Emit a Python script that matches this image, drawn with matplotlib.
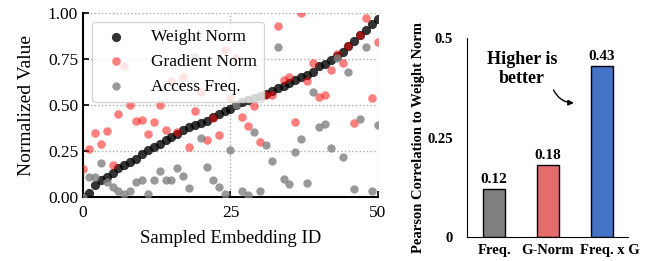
import numpy as np
import matplotlib
matplotlib.use("Agg")
import matplotlib.pyplot as plt
import matplotlib.transforms as mtransforms

plt.rcParams['font.family'] = ['Liberation Serif', 'DejaVu Serif']

# sampled embedding ids
emb_id = list(range(51))

# weight norm (sorted)
weight_norm = [0.00, 0.02, 0.065, 0.09, 0.11, 0.13, 0.155, 0.175, 0.19, 0.205,
               0.235, 0.255, 0.27, 0.29, 0.31, 0.325, 0.345, 0.365, 0.38, 0.39,
               0.40, 0.415, 0.435, 0.45, 0.465, 0.48, 0.50, 0.515, 0.527, 0.537,
               0.548, 0.56, 0.575, 0.59, 0.605, 0.62, 0.635, 0.65, 0.665, 0.68,
               0.71, 0.725, 0.745, 0.765, 0.79, 0.82, 0.85, 0.88, 0.91, 0.94,
               0.965]

grad_norm = [0.15, 0.26, 0.35, 0.29, 0.36, 0.175, 0.45, 0.71, 0.50, 0.415,
             0.42, 0.34, 0.41, 0.50, 0.365, 0.63, 0.355, 0.65, 0.27, 0.47,
             0.57, 0.31, 0.43, 0.335, 0.80, 0.536, 0.755, 0.435, 0.386, 0.495,
             0.30, 0.555, 0.555, 0.93, 0.636, 0.654, 0.405, 1.0, 0.63, 0.727,
             0.545, 0.555, 0.69, 0.775, 0.727, 0.82, 0.404, 0.88, 0.975, 0.54,
             0.84]

access_freq = [0.0, 0.11, 0.11, 0.187, 0.083, 0.056, 0.03, 0.016, 0.033, 0.083,
               0.09, 0.016, 0.09, 0.14, 0.09, 0.09, 0.156, 0.114, 0.047, 0.76,
               0.32, 0.165, 0.09, 0.056, 0.016, 0.257, 0.50, 0.034, 0.01, 0.355,
               0.03, 0.28, 0.196, 0.817, 0.10, 0.069, 0.246, 0.315, 0.078, 0.57,
               0.38, 0.397, 0.265, 0.754, 0.22, 0.68, 0.043, 0.424, 0.817, 0.034,
               0.39]

# pearson correlation bars
corr_labels = ['Freq.', 'G-Norm', 'Freq. x G']
corr_values = [0.12, 0.18, 0.43]
corr_colors = ['#7f7f7f', '#e46c6a', '#4472c4']

fig = plt.figure(figsize=(6.46, 2.61), dpi=100)

# ---- left: scatter ----
ax = fig.add_axes([0.1285, 0.2452, 0.4565, 0.705])
ax.scatter(emb_id, weight_norm, s=44, color='black', alpha=0.8, lw=0,
           label='Weight Norm', zorder=3)
ax.scatter(emb_id, grad_norm, s=38, color='red', alpha=0.5, lw=0,
           label='Gradient Norm', zorder=3)
ax.scatter(emb_id, access_freq, s=36, color='gray', alpha=0.8, lw=0,
           label='Access Freq.', zorder=3)
ax.set_xlim(0, 50)
ax.set_ylim(0, 1)
ax.set_xticks([0, 25, 50])
ax.set_yticks([0, 0.25, 0.5, 0.75, 1.0])
ax.set_yticklabels(['0.00', '0.25', '0.50', '0.75', '1.00'])
ax.grid(True, linestyle=':', color='#aaaaaa', lw=1)
ax.set_axisbelow(True)
for s in ['top', 'right']:
    ax.spines[s].set_visible(False)
for s in ['left', 'bottom']:
    ax.spines[s].set_linewidth(1.5)
ax.tick_params(direction='in', labelsize=12.5, length=4, width=1.2)
ax.tick_params(axis='x', pad=6)
ax.set_xlabel('Sampled Embedding ID', fontsize=13.5, labelpad=6)
ax.set_ylabel('Normalized Value', fontsize=14, labelpad=9)
leg = ax.legend(loc='upper left', bbox_to_anchor=(0.03, 0.951), fontsize=12.5,
                framealpha=0.8, handletextpad=1.0, labelspacing=0.5,
                borderpad=0.4, borderaxespad=0)
leg.set_zorder(5)

# ---- right: bars ----
bx = fig.add_axes([0.723, 0.092, 0.249, 0.762])
xs = np.arange(len(corr_values))
bx.bar(xs, corr_values, width=0.41, color=corr_colors, edgecolor='black', lw=1)
for x, v in zip(xs, corr_values):
    bx.text(x, v + 0.008, f'{v:.2f}', ha='center', va='bottom',
            fontsize=11, fontweight='bold')
bx.set_xlim(-0.5, 2.48)
bx.set_ylim(0, 0.5)
bx.set_yticks([0, 0.25, 0.5])
bx.set_yticklabels(['0', '0.25', '0.5'])
bx.set_xticks(xs)
bx.set_xticklabels(corr_labels)
bx.tick_params(length=0, labelsize=10.5)
bx.tick_params(axis='y', pad=10)
bx.tick_params(axis='x', pad=5)
for t in bx.get_xticklabels() + bx.get_yticklabels():
    t.set_fontweight('bold')
# last label sits a little right of its bar
lab = bx.get_xticklabels()[-1]
lab.set_transform(lab.get_transform() +
                  mtransforms.ScaledTranslation(8 / 100, 0, fig.dpi_scale_trans))
for s in ['top', 'right']:
    bx.spines[s].set_visible(False)
bx.set_ylabel('Pearson Correlation to Weight Norm', fontsize=10.5,
              fontweight='bold', labelpad=2)
bx.text(0.52, 0.423, 'Higher is\nbetter', ha='center', va='center',
        fontsize=13, fontweight='bold', linespacing=1.15)
bx.annotate('', xy=(1.53, 0.337), xytext=(1.08, 0.376),
            arrowprops=dict(arrowstyle='-|>', color='black', lw=1,
                            connectionstyle='arc3,rad=0.35', mutation_scale=8))

fig.savefig('out.png', dpi=100)
